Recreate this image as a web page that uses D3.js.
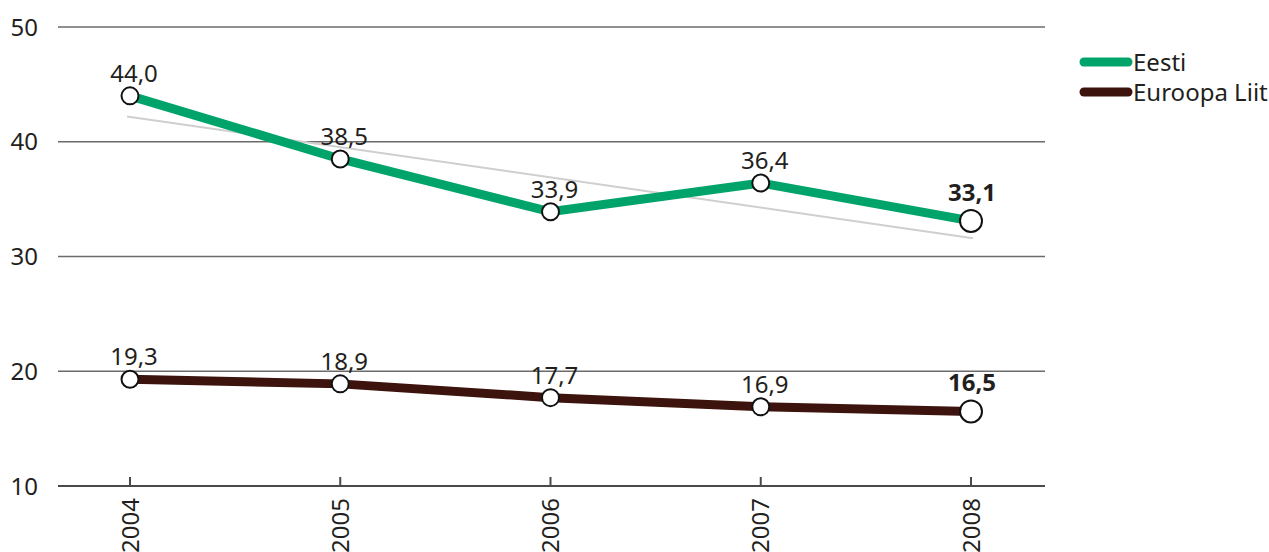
<!DOCTYPE html>
<html>
<head>
<meta charset="utf-8">
<script src="https://cdn.jsdelivr.net/npm/d3@7"></script>
<style>
  html, body { margin: 0; padding: 0; background: #fff; }
  svg { display: block; font-family: "Noto Sans", "DejaVu Sans", sans-serif; }
</style>
</head>
<body>
<svg id="chart" width="1269" height="552"></svg>
<script>
var years = [2004, 2005, 2006, 2007, 2008];
var eesti = [44.0, 38.5, 33.9, 36.4, 33.1];
var euroopaLiit = [19.3, 18.9, 17.7, 16.9, 16.5];
// trend line ends
var trendYears = [2004, 2008];
var trendValues = [42.2, 31.6];
var yTicks = [10, 20, 30, 40, 50];
var seriesNames = ['Eesti', 'Euroopa Liit'];
var seriesColors = ['#00a46b', '#3c130d'];

var svg = d3.select('#chart');

var x = d3.scaleLinear().domain([2004, 2008]).range([130, 971]);
var y = d3.scaleLinear().domain([10, 50]).range([486, 27]);
var left = 58, right = 1045;
var fs = 24;

function fmt(v) { return v.toFixed(1).replace('.', ','); }

// grid lines
svg.append('g').selectAll('line')
  .data(yTicks.filter(function (d) { return d > 10; }))
  .enter().append('line')
  .attr('x1', left).attr('x2', right)
  .attr('y1', function (d) { return y(d); })
  .attr('y2', function (d) { return y(d); })
  .attr('stroke', '#6b6b6b').attr('stroke-width', 1.3);

// y labels
svg.append('g').selectAll('text')
  .data(yTicks).enter().append('text')
  .attr('x', 38)
  .attr('y', function (d) { return y(d); })
  .attr('dy', '0.36em')
  .attr('text-anchor', 'end')
  .attr('font-size', fs)
  .attr('fill', '#231f20')
  .text(function (d) { return d; });

// x axis
var xAxis = svg.append('g');
xAxis.append('line')
  .attr('x1', left).attr('x2', right)
  .attr('y1', y(10)).attr('y2', y(10))
  .attr('stroke', '#4a4a4a').attr('stroke-width', 2);
xAxis.selectAll('line.tick').data(years).enter().append('line')
  .attr('class', 'tick')
  .attr('x1', function (d) { return x(d); })
  .attr('x2', function (d) { return x(d); })
  .attr('y1', y(10)).attr('y2', y(10) - 9)
  .attr('stroke', '#4a4a4a').attr('stroke-width', 2);
xAxis.selectAll('text').data(years).enter().append('text')
  .attr('transform', function (d) { return 'translate(' + x(d) + ',' + 498 + ') rotate(-90)'; })
  .attr('text-anchor', 'end')
  .attr('dy', '0.36em')
  .attr('font-size', fs)
  .attr('fill', '#231f20')
  .text(function (d) { return d; });

// trend line
svg.append('line')
  .attr('x1', x(trendYears[0]) - 3).attr('y1', y(trendValues[0]))
  .attr('x2', x(trendYears[1]) + 2).attr('y2', y(trendValues[1]))
  .attr('stroke', '#cfcfcf').attr('stroke-width', 2);

var line = d3.line()
  .x(function (d, i) { return x(years[i]); })
  .y(function (d) { return y(d); });

function drawSeries(values, color, width) {
  svg.append('path')
    .datum(values)
    .attr('d', line)
    .attr('fill', 'none')
    .attr('stroke', color)
    .attr('stroke-width', width)
    .attr('stroke-linejoin', 'miter');

  var last = values.length - 1;
  svg.append('g').selectAll('circle').data(values).enter().append('circle')
    .attr('cx', function (d, i) { return x(years[i]); })
    .attr('cy', function (d) { return y(d); })
    .attr('r', function (d, i) { return i === last ? 11 : 8.5; })
    .attr('fill', '#fff')
    .attr('stroke', '#111')
    .attr('stroke-width', 2);

  svg.append('g').selectAll('text').data(values).enter().append('text')
    .attr('x', function (d, i) { return x(years[i]) + (i === last ? 1 : 4); })
    .attr('y', function (d, i) { return y(d) - (i === last ? 20 : 14); })
    .attr('text-anchor', 'middle')
    .attr('font-size', fs)
    .attr('font-weight', function (d, i) { return i === last ? 'bold' : 'normal'; })
    .attr('fill', '#231f20')
    .text(fmt);
}

drawSeries(euroopaLiit, seriesColors[1], 9);
drawSeries(eesti, seriesColors[0], 9);

// legend
var legend = svg.append('g').selectAll('g').data(seriesNames).enter().append('g')
  .attr('transform', function (d, i) { return 'translate(1084,' + (62 + i * 30) + ')'; });
legend.append('line')
  .attr('x1', 0).attr('x2', 44)
  .attr('stroke', function (d, i) { return seriesColors[i]; })
  .attr('stroke-width', 9)
  .attr('stroke-linecap', 'round');
legend.append('text')
  .attr('x', 49)
  .attr('dy', '0.36em')
  .attr('font-size', fs)
  .attr('fill', '#231f20')
  .text(function (d) { return d; });
</script>
</body>
</html>
